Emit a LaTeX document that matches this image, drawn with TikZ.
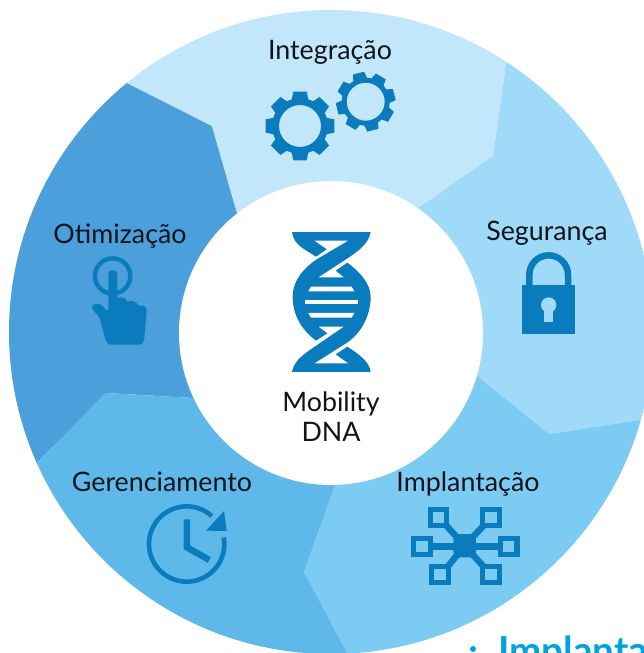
\documentclass[tikz,border=0pt]{standalone}
\usepackage{fontspec}
\setmainfont{Lato}
\usetikzlibrary{calc}
\definecolor{segA}{HTML}{C2E7FB}
\definecolor{segB}{HTML}{9FDBF9}
\definecolor{segC}{HTML}{7BCBF3}
\definecolor{segD}{HTML}{5EB8EA}
\definecolor{segE}{HTML}{4B9FDB}
\definecolor{icon}{HTML}{0A7CBD}
\definecolor{ink}{HTML}{111418}
\definecolor{bullet}{HTML}{00A3E0}
\tikzset{
  seglabel/.style={font=\fontsize{26.8}{30}\selectfont,text=ink,inner sep=0pt,align=center,anchor=base},
}
\begin{document}
\begin{tikzpicture}[x=1pt,y=-1pt]
\useasboundingbox (0,0) rectangle (644,653);
\clip (0,0) rectangle (644,653);
\coordinate (c) at (331,332);
\coordinate (p1) at (127,83);
\coordinate (p2) at (506,64);
\coordinate (p3) at (640,420);
\coordinate (p4) at (347,653);
\coordinate (p5) at (37,463);
\begin{scope}
  \clip (c) circle[radius=322];
  \fill[segE] (c) -- (193,398) -- (106,393) -- (p5) -- ($(c)!1.3!(p5)$) -- (-100,200) -- ($(c)!1.3!(p1)$) -- (p1) -- (212,126) -- (237,213) -- cycle;
  \fill[segA] (c) -- (237,213) -- (212,126) -- (p1) -- ($(c)!1.3!(p1)$) -- ($(c)!1.4!(331,10)$) -- ($(c)!1.3!(p2)$) -- (p2) -- (493,156) -- (418,208) -- cycle;
  \fill[segB] (c) -- (418,208) -- (493,156) -- (p2) -- ($(c)!1.3!(p2)$) -- (800,200) -- ($(c)!1.3!(p3)$) -- (p3) -- (549,434) -- (477,376) -- cycle;
  \fill[segC] (c) -- (477,376) -- (549,434) -- (p3) -- ($(c)!1.3!(p3)$) -- (600,800) -- ($(c)!1.3!(p4)$) -- (p4) -- (304,572) -- (335,485) -- cycle;
  \fill[segD] (c) -- (335,485) -- (304,572) -- (p4) -- ($(c)!1.3!(p4)$) -- (100,800) -- ($(c)!1.3!(p5)$) -- (p5) -- (106,393) -- (193,398) -- cycle;
\end{scope}
\fill[white] (331,333) circle[radius=152];

% labels
\node[seglabel] (integ) at (330,59) {Integração};
\node[seglabel] (seg) at (547,240) {Segurança};
\node[seglabel] (impl) at (468,491) {Implantação};
\node[seglabel] (ger) at (162,491) {Gerenciamento};
\node[seglabel] (otim) at (120,243) {Otimização};
\node[seglabel,anchor=center] (dna) at (331,416.5) {Mobility\\DNA};
\node[anchor=base west,inner sep=0pt,font=\fontsize{38.5}{42}\selectfont\bfseries,text=bullet] (cut) at (498,664) {Implanta};
\fill[bullet] (473,649) circle[radius=3];

% gears
\begin{scope}[shift={(300,126)}]
  \fill[icon,even odd rule] (-17:28)
    \foreach \a in {0,45,...,315} { -- ({\a-17}:28) -- ({\a-11}:35) -- ({\a+11}:35) -- ({\a+17}:28) }
    -- cycle (0,0) circle[radius=21];
\end{scope}
\begin{scope}[shift={(365.7,101.7)}]
  \fill[icon,even odd rule] (-31:24)
    \foreach \a in {-14,31,...,301} { -- ({\a-17}:24) -- ({\a-11}:30) -- ({\a+11}:30) -- ({\a+17}:24) }
    -- cycle (0,0) circle[radius=19];
\end{scope}

% DNA
\begin{scope}[shift={(270,220)},scale=0.3333]
  \fill[icon] (66,36) -- (302,36) .. controls (296,75) and (255,100) .. (225,120) -- (145,172) -- (222,172) -- (197,152) -- (232,128)
    .. controls (275,160) and (302,195) .. (302,230) .. controls (302,290) and (270,345) .. (225,372)
    -- (133,430) -- (235,430) -- (197,403) -- (232,380) .. controls (270,405) and (298,425) .. (302,456)
    -- (66,456) .. controls (72,420) and (105,400) .. (140,376) -- (222,320) -- (145,320) -- (172,340) -- (138,362)
    .. controls (95,330) and (68,285) .. (68,230) .. controls (68,180) and (105,140) .. (145,115)
    -- (235,62) -- (133,62) -- (170,88) -- (138,110) .. controls (100,85) and (72,75) .. (66,36) -- cycle;
  \fill[white] (123,200) -- (245,200) -- (253,214) -- (115,214) -- cycle;
  \fill[white] (105,239) rectangle (263,253);
  \fill[white] (115,279) -- (253,279) -- (245,293) -- (123,293) -- cycle;
\end{scope}

% hand
\begin{scope}[shift={(70,245)},scale=0.3333]
  \draw[icon,line width=4.4pt] (128,93) circle[radius=53];
  \fill[icon,rounded corners=2pt] (115,92) .. controls (115,72) and (142,72) .. (142,92) -- (142,160)
    .. controls (155,155) and (168,160) .. (172,172) .. controls (185,165) and (200,170) .. (204,184)
    .. controls (215,180) and (230,185) .. (230,200) -- (222,290) -- (215,299) -- (115,299) -- (108,290)
    -- (88,215) -- (68,195) .. controls (62,178) and (85,170) .. (98,185) -- (115,200) -- cycle;
\end{scope}

% clock
\begin{scope}[shift={(130,495)},scale=0.3333]
  \draw[icon,line width=4.6pt] (170,147) ++(-10:113) arc[start angle=-10,end angle=312,radius=113];
  \fill[icon] (282,48) -- (290,108) -- (228,107) -- cycle;
  \draw[icon,line width=6.5pt] (171,73) -- (171,157) -- (238,195);
\end{scope}

% network
\begin{scope}[shift={(400,495)},scale=0.3333]
  \fill[icon] (175,117) -- (213,117) -- (228,132) -- (228,172) -- (213,187) -- (175,187) -- (160,172) -- (160,132) -- cycle;
  \draw[icon,line width=6.5pt] (130,82) -- (194,152) -- (260,82);
  \draw[icon,line width=6.5pt] (80,154) -- (310,154);
  \draw[icon,line width=6.5pt] (135,225) -- (194,152) -- (260,225);
  \foreach \nx/\ny in {115.5/66.5,273.5/66.5,66/154,326/154,120.5/239,273.5/239}{
    \fill[segC] (\nx-25,\ny-24) rectangle (\nx+25,\ny+24);
    \draw[icon,line width=5.2pt] (\nx-25,\ny-24) rectangle (\nx+25,\ny+24);
  }
\end{scope}

% lock
\begin{scope}[shift={(500,240)},scale=0.3333]
  \draw[icon,line width=6.5pt] (88,140) -- (88,104) arc[start angle=180,end angle=360,radius=58] -- (204,140);
  \fill[icon] (66,135) rectangle (226,283);
  \fill[segB] (146,195) circle[radius=23];
  \fill[segB] (133,200) rectangle (160,247);
\end{scope}
\end{tikzpicture}
\end{document}
